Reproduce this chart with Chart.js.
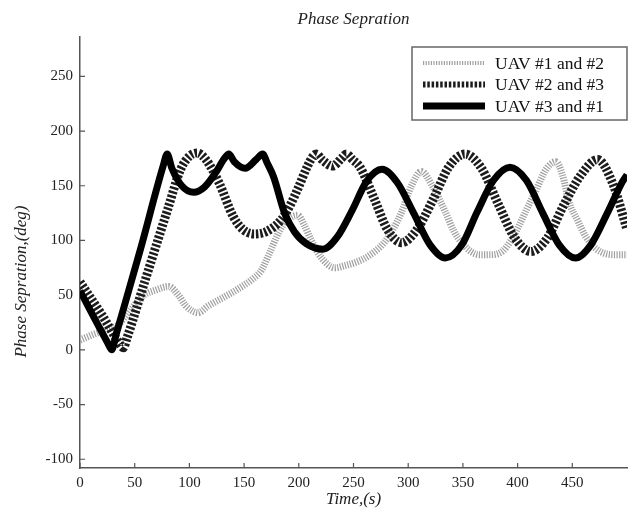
<!DOCTYPE html>
<html><head><meta charset="utf-8">
<script src="https://cdn.jsdelivr.net/npm/chart.js@4.4.0/dist/chart.umd.min.js"></script>
<style>html,body{margin:0;padding:0;background:#fff;}</style>
</head><body>
<canvas id="c" width="638" height="515"></canvas>
<script>
const xTicks = [0,50,100,150,200,250,300,350,400,450];
const yTicks = [-100,-50,0,50,100,150,200,250];
const seriesLabels = ['UAV #1 and #2','UAV #2 and #3','UAV #3 and #1'];
const yTitleText = 'Phase Sepration,(deg)';

const t12 = [0,12,26,35,45,57,70,81,90,97,108,117,133,145,158,166,173,182,190,199,205,211,220,233,242,252,264,278,286,294,303,312,322,334,342,349,357,365,375,386,394,401,408,416,426,435,441,447,455,462,471,480,490,500];
const v12 = [9,14,19,23,35,49,55,58,50,40,34,40,49,56,65,73,88,108,119,123,114,101,85,75,77,80,86,98,110,126,150,163,150,126,108,98,90,87,87,90,100,113,128,144,165,172,160,135,118,104,93,88,87,87];

const t23 = [0,20,36,39.6,43,60,80,92,100,107,115,127,140,149,159,170,184,192,199,208,213,216,221,231,239,243.5,249,256,269,281,294,308,323,337,352,367,382,397,412,427,442,458,473,487,500];
const v23 = [62,32,6,2,11,65,128,165,177,180,174,153,122,110,106,108,119,132,147,168,177,179,174,168,175,179,174,167,138,110,98,110,138,167,179,166,134,103,90,102,132,160,174,152,110];

const t31 = [0,25,29,33,55,76,79.7,84,93,104,114,124,132,136,141,151,161,167,171,177,187,196,207,222,235,249,262,276,290,305,320,334,349,363,378,393,408,423,438,453,467,482,496,500];
const v31 = [54,7,0,14,91,168,179,166,150,144,149,162,175,179,172,166,174,179,171,158,125,108,97,92,103,128,154,165,153,125,96,84,96,126,155,167,155,125,96,84,96,125,154,160];

const pts = (t, v) => t.map((x, i) => ({x: x, y: v[i]}));
const SERIF = 'Liberation Serif';

const styles = [
  {color:'#a0a0a0', width:7, dash:[1.2,1.4], legW:4},
  {color:'#1c1c1c', width:9, dash:[2.5,1.8], legW:6},
  {color:'#000000', width:7, dash:[], legW:7}
];

const innerTicks = {
  id:'innerTicks',
  beforeDatasetsDraw(chart){
    const ctx = chart.ctx, xs = chart.scales.x, ys = chart.scales.y, a = chart.chartArea;
    ctx.save(); ctx.strokeStyle = '#555'; ctx.lineWidth = 1.2; ctx.beginPath();
    xTicks.forEach(v => { const p = xs.getPixelForValue(v); ctx.moveTo(p, a.bottom); ctx.lineTo(p, a.bottom - 5); });
    yTicks.forEach(v => { const p = ys.getPixelForValue(v); ctx.moveTo(a.left, p); ctx.lineTo(a.left + 5, p); });
    ctx.stroke(); ctx.restore();
  }
};

const yTitle = {
  id:'yTitle',
  afterDraw(chart){
    const ctx = chart.ctx, a = chart.chartArea;
    ctx.save();
    ctx.translate(22, (a.top + a.bottom) / 2 + 29);
    ctx.rotate(-Math.PI / 2);
    ctx.font = 'italic 17px "' + SERIF + '"'; ctx.fillStyle = '#222';
    ctx.textAlign = 'center'; ctx.textBaseline = 'middle';
    ctx.fillText(yTitleText, 0, 0);
    ctx.restore();
  }
};

const boxLegend = {
  id:'boxLegend',
  afterDraw(chart){
    const ctx = chart.ctx, a = chart.chartArea;
    const w = 215, h = 73, left = a.right - w, top = a.top + 10;
    ctx.save();
    ctx.fillStyle = '#fff'; ctx.fillRect(left, top, w, h);
    ctx.strokeStyle = '#666'; ctx.lineWidth = 1.5; ctx.strokeRect(left, top, w, h);
    ctx.font = '17.5px "' + SERIF + '"'; ctx.fillStyle = '#111'; ctx.textBaseline = 'middle'; ctx.textAlign = 'left';
    chart.data.datasets.forEach((ds, i) => {
      const y = top + 16 + i * 21.5;
      const s = styles[i];
      ctx.beginPath(); ctx.strokeStyle = s.color; ctx.lineWidth = s.legW; ctx.setLineDash(s.dash);
      ctx.moveTo(left + 11, y); ctx.lineTo(left + 73, y); ctx.stroke();
      ctx.setLineDash([]);
      ctx.fillText(ds.label, left + 83, y + 1);
    });
    ctx.restore();
  }
};

const tickFont = {family: SERIF, size: 15};
new Chart(document.getElementById('c'), {
  type:'line',
  data:{
    datasets:[
      {label:seriesLabels[0], data:pts(t12, v12), order:2},
      {label:seriesLabels[1], data:pts(t23, v23), order:1},
      {label:seriesLabels[2], data:pts(t31, v31), order:0}
    ].map((d, i) => Object.assign(d, {
      borderColor:styles[i].color, borderWidth:styles[i].width, borderDash:styles[i].dash,
      pointRadius:0, fill:false, cubicInterpolationMode:'monotone', borderCapStyle:'butt'
    }))
  },
  options:{
    responsive:false, animation:false, devicePixelRatio:1,
    layout:{padding:{left:0, right:11, top:0, bottom:0}},
    plugins:{
      legend:{display:false}, tooltip:{enabled:false},
      title:{display:true, text:'Phase Sepration', fullSize:false, color:'#222',
        font:{family:SERIF, size:17, style:'italic', weight:'normal'}, padding:{top:9, bottom:7.6}}
    },
    scales:{
      x:{type:'linear', min:0, max:500,
        afterBuildTicks: ax => { ax.ticks = xTicks.map(v => ({value:v})); },
        afterFit: s => { s.height = 47; },
        grid:{display:true, drawOnChartArea:false, drawTicks:false},
        border:{display:true, color:'#555', width:1.5},
        ticks:{padding:6, font:tickFont, color:'#222', maxRotation:0, autoSkip:false, callback: v => String(v)},
        title:{display:true, text:'Time,(s)', color:'#222', font:{family:SERIF, size:17, style:'italic'}, padding:{top:0, bottom:5}}
      },
      y:{type:'linear', min:-108, max:286,
        afterBuildTicks: ax => { ax.ticks = yTicks.map(v => ({value:v})); },
        afterFit: s => { s.width = 80; },
        grid:{display:true, drawOnChartArea:false, drawTicks:false},
        border:{display:true, color:'#555', width:1.5},
        ticks:{padding:7, font:tickFont, color:'#222', autoSkip:false, callback: v => String(v)},
        title:{display:false}
      }
    }
  },
  plugins:[innerTicks, boxLegend, yTitle]
});
</script>
</body></html>
